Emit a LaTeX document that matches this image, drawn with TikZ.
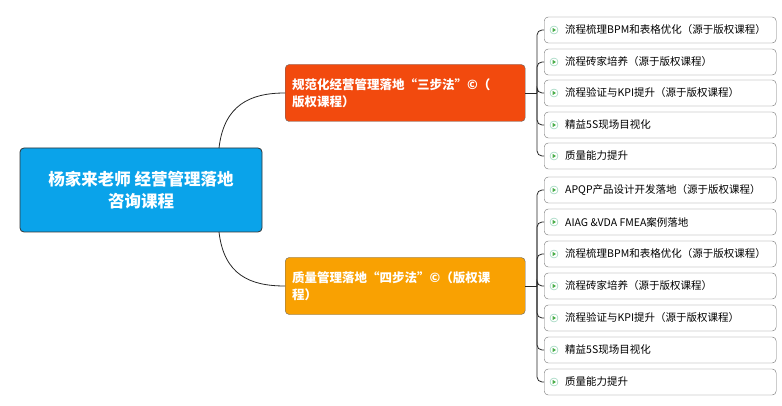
\documentclass[tikz,border=0pt]{standalone}
\usepackage{fontspec}
\setmainfont{Noto Sans CJK SC}
\usetikzlibrary{positioning,calc}
\definecolor{rootblue}{HTML}{0AA3EA}
\definecolor{redbr}{HTML}{F24A0E}
\definecolor{orangebr}{HTML}{F9A102}
\definecolor{iconline}{HTML}{7CC8A8}
\tikzset{
  root/.style={draw=black!80,thick,fill=rootblue,rounded corners=4pt,text=white,font=\bfseries\fontsize{16.5}{22}\selectfont,align=center,minimum width=242pt,minimum height=84pt,inner sep=2pt},
  branch/.style={draw=black!60,fill=#1,rounded corners=4pt,text=white,font=\bfseries\fontsize{12.5}{17}\selectfont,align=left,text width=226pt,minimum height=57pt,inner sep=7pt,anchor=west},
  leaf/.style={draw=black!55,fill=white,rounded corners=4pt,font=\fontsize{10.5}{12}\selectfont,minimum width=232pt,minimum height=26pt,inner xsep=0pt,anchor=west},
  link/.style={black!85,thick},
}
\newcommand{\leafbox}[3]{%
  \node[leaf] (#1) at (544,#2) {\makebox[232pt][l]{\hspace*{21pt}#3}};
  \node[circle,draw=iconline,fill=white,inner sep=0pt,minimum size=8pt] at ($(#1.west)+(10,0)$) {};
  \fill[green!55!black!70] ($(#1.west)+(8.6,2.2)$) -- ($(#1.west)+(12,0)$) -- ($(#1.west)+(8.6,-2.2)$) -- cycle;
}
\begin{document}
\begin{tikzpicture}[x=1pt,y=-1pt]
\useasboundingbox (0,0) rectangle (782,406);

\node[root] (main) at (141,190) {杨家来老师 经营管理落地\\咨询课程};
\node[branch=redbr] (sanbu) at (285,93) {规范化经营管理落地“三步法”©（\\版权课程）};
\node[branch=orangebr] (sibu) at (285,286) {质量管理落地“四步法”©（版权课\\程）};

\draw[link] (219,148) .. controls (224,105) and (250,93) .. (sanbu.west);
\draw[link] (219,232) .. controls (224,275) and (250,286) .. (sibu.west);

% top group
\leafbox{a1}{30}{流程梳理BPM和表格优化（源于版权课程）}
\leafbox{a2}{62}{流程砖家培养（源于版权课程）}
\leafbox{a3}{93}{流程验证与KPI提升（源于版权课程）}
\leafbox{a4}{125}{精益5S现场目视化}
\leafbox{a5}{156}{质量能力提升}
\coordinate (busa) at (537,93);
\draw[link] (sanbu.east) -- (busa);
\foreach \n in {a1,a2,a3,a4,a5}
  \draw[link,rounded corners=5pt] (busa) |- (\n.west);

% bottom group
\leafbox{b1}{190}{APQP产品设计开发落地（源于版权课程）}
\leafbox{b2}{222}{AIAG \&VDA FMEA案例落地}
\leafbox{b3}{254}{流程梳理BPM和表格优化（源于版权课程）}
\leafbox{b4}{286}{流程砖家培养（源于版权课程）}
\leafbox{b5}{318}{流程验证与KPI提升（源于版权课程）}
\leafbox{b6}{350}{精益5S现场目视化}
\leafbox{b7}{382}{质量能力提升}
\coordinate (busb) at (537,286);
\draw[link] (sibu.east) -- (busb);
\foreach \n in {b1,b2,b3,b4,b5,b6,b7}
  \draw[link,rounded corners=5pt] (busb) |- (\n.west);
\end{tikzpicture}
\end{document}
